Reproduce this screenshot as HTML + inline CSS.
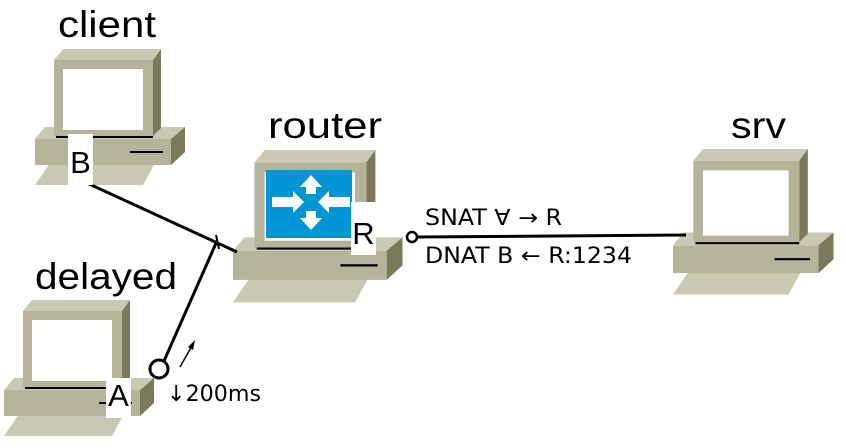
<!DOCTYPE html>
<html><head><style>html,body{margin:0;padding:0;background:#fff}svg{display:block}</style></head>
<body>
<svg width="846" height="448" viewBox="0 0 846 448" xmlns="http://www.w3.org/2000/svg" font-family="Liberation Sans, DejaVu Sans, sans-serif">
<defs>
<g id="pc">
  <polygon points="15,114 120,114 108,136 0,136" fill="#c9c8b2"/>
  <polygon points="0,90 10,78 150,78 136,90" fill="#c9c8b2"/>
  <rect x="0" y="90" width="136" height="26" fill="#b5b49b"/>
  <polygon points="136,90 150,78 150,103 136,116" fill="#7a7a5a"/>
  <line x1="95" y1="103" x2="128" y2="103" stroke="#000" stroke-width="2"/>
  <polygon points="19,11 28,0 126,0 118,11" fill="#c9c8b2"/>
  <polygon points="118,11 126,0 126,79 118,87" fill="#7a7a5a"/>
  <rect x="19" y="11" width="99" height="76" fill="#b5b49b"/>
  <rect x="28" y="20" width="80" height="61" fill="#fff"/>
  <line x1="21" y1="88" x2="118" y2="88" stroke="#000" stroke-width="2"/>
</g>
</defs>
<use href="#pc" x="35" y="49"/>
<use href="#pc" x="4" y="300"/>
<g transform="translate(233,150) scale(1.13,1.12)"><use href="#pc"/></g>
<rect x="266" y="170" width="86" height="68" fill="#0096d6"/>
<g fill="#fff">
  <polygon points="272,197 293,197 293,191 304,202 293,213 293,207 272,207"/>
  <polygon points="350,197 329,197 329,191 318,202 329,213 329,207 350,207"/>
  <polygon points="306,194 306,187 300,187 311,175 322,187 316,187 316,194"/>
  <polygon points="306,211 306,218 300,218 311,230 322,218 316,218 316,211"/>
</g>
<g transform="translate(673,149) scale(1.07,1.07)"><use href="#pc"/></g>

<line x1="87" y1="183" x2="237" y2="252" stroke="#000" stroke-width="3"/>
<line x1="164" y1="361" x2="217" y2="241" stroke="#000" stroke-width="3"/>
<line x1="216" y1="235" x2="219" y2="249" stroke="#000" stroke-width="2"/>
<circle cx="159" cy="369" r="9" fill="#fff" stroke="#000" stroke-width="3"/>
<line x1="417" y1="237" x2="686" y2="235" stroke="#000" stroke-width="3"/>
<circle cx="412" cy="237" r="5" fill="#fff" stroke="#000" stroke-width="2.5"/>
<line x1="180" y1="367" x2="193" y2="344" stroke="#000" stroke-width="1.5"/>
<polygon points="195,340 193,350 188,347" fill="#000"/>

<rect x="68" y="134" width="25" height="51" fill="#fff"/>
<text x="80.5" y="173" font-size="31" text-anchor="middle">B</text>
<rect x="351" y="202" width="25" height="53" fill="#fff"/>
<text x="363.5" y="244" font-size="31" text-anchor="middle">R</text>
<rect x="106" y="378" width="25" height="40" fill="#fff"/>
<text x="118.5" y="406" font-size="31" text-anchor="middle">A</text>

<text x="58" y="37" font-size="37" textLength="98" lengthAdjust="spacingAndGlyphs">client</text>
<text x="268" y="138" font-size="37" textLength="114" lengthAdjust="spacingAndGlyphs">router</text>
<text x="731" y="138" font-size="37" textLength="55" lengthAdjust="spacingAndGlyphs">srv</text>
<text x="35" y="289" font-size="37" textLength="142" lengthAdjust="spacingAndGlyphs">delayed</text>

<text x="425" y="225" font-size="22" font-family="DejaVu Sans, sans-serif" textLength="137" lengthAdjust="spacingAndGlyphs">SNAT ∀ → R</text>
<text x="425" y="263" font-size="22" font-family="DejaVu Sans, sans-serif" textLength="207" lengthAdjust="spacingAndGlyphs">DNAT B ← R:1234</text>
<text x="167" y="401" font-size="22" font-family="DejaVu Sans, sans-serif" textLength="94" lengthAdjust="spacingAndGlyphs">↓200ms</text>
</svg>
</body></html>
